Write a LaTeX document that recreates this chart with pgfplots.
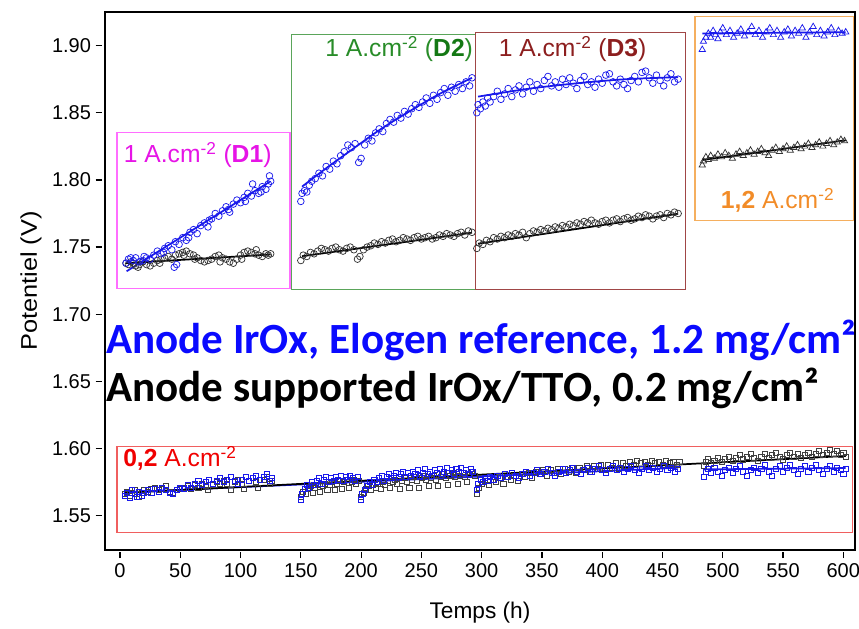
\documentclass[border=0pt]{standalone}
\usepackage{pgfplots}
\pgfplotsset{compat=1.18}
\usepackage{fontspec}
\setmainfont{Liberation Sans}
\newfontfamily\calibri{Carlito}
\definecolor{mblue}{RGB}{25,25,235}
\definecolor{tblue}{RGB}{10,10,255}
\definecolor{mag}{RGB}{230,20,230}
\definecolor{magbox}{RGB}{255,110,255}
\definecolor{grtext}{RGB}{40,140,40}
\definecolor{grbold}{RGB}{20,120,20}
\definecolor{grbox}{RGB}{90,165,90}
\definecolor{brtext}{RGB}{140,30,30}
\definecolor{brbox}{RGB}{160,70,70}
\definecolor{ortext}{RGB}{242,140,40}
\definecolor{orbox}{RGB}{245,175,95}
\definecolor{rdtext}{RGB}{240,0,0}
\definecolor{rdbox}{RGB}{240,95,95}
\begin{document}
\begin{tikzpicture}
\useasboundingbox (-78.75pt,-58.5pt) rectangle (565.5pt,412.5pt);
\begin{axis}[
  at={(0pt,0pt)}, anchor=south west,
  scale only axis, width=562.5pt, height=403.5pt,
  xmin=-12.44, xmax=609.7, ymin=1.5245, ymax=1.925,
  xtick={0,50,...,600}, ytick={1.55,1.60,...,1.91},
  /pgf/number format/assume math mode=true,
  yticklabel style={/pgf/number format/fixed,/pgf/number format/fixed zerofill,/pgf/number format/precision=2},
  tick label style={font=\fontsize{15}{18}\selectfont},
  tick align=outside, major tick length=4.5pt,
  x tick style={yshift=-1.5pt,line width=0.9pt,black},
  y tick style={xshift=-2.5pt,line width=0.9pt,black},
  xtick pos=bottom, ytick pos=left,
  axis line style={line width=1.2pt},
  xticklabel style={yshift=-2pt},
  yticklabel style={xshift=-2.5pt},
  clip=false,
  every axis x label/.style={at={(axis description cs:0.5,-0.117)},anchor=center,font=\fontsize{17}{20}\selectfont},
  every axis y label/.style={at={(axis description cs:-0.0987,0.5)},rotate=90,anchor=center,font=\fontsize{17}{20}\selectfont},
  xlabel={Temps (h)},
  ylabel={\scalebox{1.12}[1]{Potentiel (V)}},
]
% ---------- boxes ----------
\draw[magbox,line width=0.8pt] (axis cs:-2.5,1.7195) rectangle (axis cs:141,1.8355);
\draw[grbox,line width=0.8pt] (axis cs:142.5,1.7185) rectangle (axis cs:295,1.9085);
\draw[brbox,line width=0.8pt] (axis cs:295,1.7185) rectangle (axis cs:469,1.9095);
\draw[orbox,line width=0.8pt] (axis cs:477,1.770) rectangle (axis cs:608.5,1.9215);
\draw[rdbox,line width=0.8pt] (axis cs:-2.5,1.5375) rectangle (axis cs:607.5,1.6015);

% ---------- D1 ----------
\addplot[only marks, mark=o, mark size=2.5pt, black!80, mark options={line width=0.55pt}] coordinates {
(5,1.738)(7,1.737)(9,1.739)(11,1.738)(13,1.736)(16,1.737)(19,1.739)(22,1.737)(25,1.736)(28,1.738)
(31,1.740)(34,1.741)(37,1.742)(40,1.743)(43,1.741)(46,1.744)(49,1.745)(52,1.746)(55,1.747)(58,1.745)
(61,1.744)(64,1.742)(67,1.740)(70,1.739)(73,1.740)(76,1.741)(79,1.743)(82,1.744)(85,1.742)(88,1.741)
(91,1.739)(94,1.738)(97,1.741)(100,1.744)(103,1.746)(106,1.747)(109,1.746)(112,1.745)(115,1.744)(118,1.743)
(121,1.745)(123,1.744)(125,1.745)(15,1.735)(33,1.738)(53,1.744)(62,1.741)(83,1.739)(101,1.741)(113,1.748)};
\addplot[only marks, mark=o, mark size=2.5pt, mblue, mark options={line width=0.55pt}] coordinates {
(5,1.738)(7,1.741)(9,1.742)(11,1.740)(13,1.742)(16,1.739)(19,1.740)(22,1.742)(25,1.741)(28,1.744)
(31,1.747)(34,1.745)(37,1.749)(40,1.751)(43,1.748)(46,1.754)(49,1.752)(52,1.757)(55,1.755)(58,1.761)
(61,1.763)(64,1.760)(67,1.766)(70,1.768)(73,1.765)(76,1.771)(79,1.775)(82,1.773)(85,1.777)(88,1.780)
(91,1.776)(94,1.782)(97,1.785)(100,1.783)(103,1.787)(106,1.790)(109,1.788)(112,1.792)(115,1.790)(118,1.795)
(121,1.793)(123,1.797)(125,1.799)(45,1.735)(47,1.737)(124,1.803)(110,1.797)
(20,1.743)(36,1.746)(57,1.757)(74,1.770)(90,1.778)(104,1.784)(117,1.791)};
\addplot[black, line width=1.3pt] coordinates {(5,1.738)(125,1.7445)};
\addplot[mblue, line width=1.3pt] coordinates {(5.5,1.732)(124.3,1.7987)};

% ---------- D2 ----------
\addplot[only marks, mark=o, mark size=2.5pt, black!80, mark options={line width=0.55pt}] coordinates {
(150,1.740)(152,1.744)(155,1.743)(158,1.746)(161,1.745)(164,1.747)(167,1.749)(170,1.748)(173,1.747)(176,1.749)
(179,1.750)(182,1.748)(185,1.747)(188,1.749)(191,1.750)(194,1.748)(197,1.741)(199,1.743)(202,1.748)(205,1.750)
(208,1.751)(211,1.753)(214,1.752)(217,1.754)(220,1.753)(223,1.755)(226,1.756)(229,1.754)(232,1.755)(235,1.757)
(238,1.756)(241,1.755)(244,1.757)(247,1.758)(250,1.756)(253,1.757)(256,1.758)(259,1.756)(262,1.757)(265,1.759)
(268,1.758)(271,1.760)(274,1.759)(277,1.758)(280,1.760)(283,1.761)(286,1.759)(289,1.762)(292,1.761)};
\addplot[only marks, mark=o, mark size=2.5pt, mblue, mark options={line width=0.55pt}] coordinates {
(150,1.784)(151,1.790)(153,1.792)(155,1.791)(157,1.796)(159,1.799)(162,1.801)(165,1.805)(168,1.803)(171,1.810)
(174,1.808)(177,1.814)(180,1.812)(183,1.818)(186,1.821)(189,1.826)(192,1.824)(195,1.827)(198,1.813)(200,1.816)
(203,1.826)(206,1.831)(209,1.829)(212,1.835)(215,1.838)(218,1.836)(221,1.842)(224,1.845)(227,1.843)(230,1.848)
(233,1.846)(236,1.851)(239,1.849)(242,1.853)(245,1.856)(248,1.854)(251,1.858)(254,1.861)(257,1.857)(260,1.863)
(263,1.860)(266,1.865)(269,1.868)(272,1.863)(275,1.869)(278,1.866)(281,1.871)(284,1.868)(287,1.873)(290,1.870)
(292,1.876)};
\addplot[black, line width=1.3pt] coordinates {(151,1.7432)(292,1.7607)};
\addplot[mblue, line width=1.3pt, smooth] coordinates {(151,1.795)(170,1.808)(190,1.821)(215,1.837)(240,1.851)(265,1.864)(292,1.876)};

% ---------- D3 ----------
\addplot[only marks, mark=o, mark size=2.5pt, black!80, mark options={line width=0.55pt}] coordinates {
(296,1.749)(298,1.753)(301,1.752)(304,1.755)(307,1.754)(310,1.757)(313,1.756)(316,1.758)(319,1.757)(322,1.759)
(325,1.758)(328,1.760)(331,1.759)(334,1.761)(337,1.757)(340,1.760)(343,1.762)(346,1.761)(349,1.763)(352,1.762)
(355,1.764)(358,1.763)(361,1.765)(364,1.764)(367,1.766)(370,1.765)(373,1.767)(376,1.766)(379,1.768)(382,1.767)
(385,1.769)(388,1.768)(391,1.770)(394,1.768)(397,1.767)(400,1.769)(403,1.770)(406,1.768)(409,1.770)(412,1.771)
(415,1.769)(418,1.771)(421,1.772)(424,1.770)(427,1.771)(430,1.773)(433,1.772)(436,1.774)(439,1.773)(442,1.771)
(445,1.773)(448,1.774)(451,1.772)(454,1.775)(457,1.774)(460,1.776)(463,1.775)};
\addplot[only marks, mark=o, mark size=2.5pt, mblue, mark options={line width=0.55pt}] coordinates {
(296,1.850)(297,1.856)(299,1.853)(301,1.858)(303,1.855)(305,1.861)(307,1.858)(310,1.862)(313,1.866)(316,1.860)
(319,1.864)(322,1.868)(325,1.862)(328,1.867)(331,1.870)(334,1.864)(337,1.869)(340,1.873)(343,1.866)(346,1.871)
(349,1.868)(352,1.874)(355,1.877)(358,1.870)(361,1.873)(364,1.869)(367,1.875)(370,1.871)(373,1.876)(376,1.872)
(379,1.868)(382,1.874)(385,1.877)(388,1.871)(391,1.873)(394,1.869)(397,1.875)(400,1.872)(403,1.878)(406,1.879)
(409,1.873)(412,1.870)(415,1.875)(418,1.871)(421,1.868)(424,1.874)(427,1.877)(430,1.873)(433,1.880)(436,1.881)
(439,1.876)(442,1.872)(445,1.878)(448,1.874)(451,1.870)(454,1.876)(457,1.879)(460,1.873)(463,1.875)};
\addplot[black, line width=1.3pt] coordinates {(297,1.7525)(463,1.7748)};
\addplot[mblue, line width=1.3pt, smooth] coordinates {(297,1.862)(340,1.868)(380,1.872)(420,1.875)(463,1.8765)};

% ---------- 1,2 A/cm2 ----------
\addplot[only marks, mark=triangle, mark size=2.7pt, black!80, mark options={line width=0.55pt}] coordinates {
(483,1.811)(484,1.814)(486,1.817)(488,1.815)(490,1.818)(493,1.816)(496,1.819)(499,1.817)(502,1.820)(505,1.818)
(508,1.816)(511,1.819)(514,1.821)(517,1.818)(520,1.820)(523,1.822)(526,1.819)(529,1.821)(532,1.823)(535,1.820)
(538,1.818)(541,1.822)(544,1.824)(547,1.821)(550,1.823)(553,1.825)(556,1.822)(559,1.824)(562,1.826)(565,1.823)
(568,1.825)(571,1.827)(574,1.824)(577,1.826)(580,1.828)(583,1.825)(586,1.827)(589,1.829)(592,1.826)(595,1.828)
(598,1.830)(601,1.829)};
\addplot[only marks, mark=triangle, mark size=2.7pt, mblue, mark options={line width=0.55pt}] coordinates {
(483,1.897)(484,1.903)(486,1.906)(488,1.909)(490,1.906)(492,1.911)(494,1.908)(496,1.905)(498,1.910)(500,1.913)
(503,1.908)(506,1.911)(509,1.906)(512,1.909)(515,1.912)(518,1.907)(521,1.910)(524,1.914)(527,1.908)(530,1.911)
(533,1.906)(536,1.910)(539,1.913)(542,1.908)(545,1.911)(548,1.906)(551,1.910)(554,1.912)(557,1.907)(560,1.911)
(563,1.909)(566,1.913)(569,1.906)(572,1.910)(575,1.914)(578,1.908)(581,1.911)(584,1.907)(587,1.910)(590,1.913)
(593,1.908)(596,1.911)(599,1.909)(602,1.910)};
\addplot[black, line width=1.3pt] coordinates {(483,1.8148)(602,1.8295)};
\addplot[mblue, line width=1.3pt] coordinates {(483,1.909)(602,1.910)};

% ---------- 0,2 A/cm2 ----------
\addplot[only marks, mark=square, mark size=1.9pt, black!75, mark options={line width=0.5pt}] coordinates {
(4,1.566)(6,1.568)(8,1.565)(10,1.567)(12,1.569)(14,1.566)(16,1.564)(18,1.567)(20,1.569)(23,1.568)
(26,1.570)(29,1.571)(32,1.569)(35,1.570)(38,1.572)(41,1.568)(44,1.567)(47,1.569)(50,1.570)(53,1.571)
(56,1.572)(59,1.570)(62,1.573)(65,1.571)(68,1.574)(71,1.572)(73,1.569)(77,1.573)(80,1.575)(83,1.574)
(86,1.576)(89,1.574)(92,1.569)(95,1.575)(98,1.577)(101,1.574)(103,1.570)(107,1.576)(110,1.578)(113,1.575)
(114,1.571)(119,1.577)(122,1.579)(124,1.574)(126,1.576)
(150,1.564)(152,1.568)(154,1.566)(156,1.570)(158,1.572)(160,1.567)(162,1.571)(164,1.573)(166,1.568)(168,1.572)
(170,1.574)(172,1.569)(174,1.573)(176,1.575)(178,1.569)(180,1.574)(182,1.576)(184,1.570)(186,1.575)(188,1.577)
(190,1.571)(192,1.575)(194,1.577)(196,1.574)(198,1.576)
(200,1.564)(202,1.567)(204,1.570)(206,1.572)(208,1.569)(210,1.573)(212,1.571)(214,1.574)(216,1.570)(218,1.575)
(220,1.573)(222,1.576)(224,1.571)(226,1.575)(228,1.577)(230,1.574)(232,1.570)(234,1.576)(236,1.578)(238,1.575)
(240,1.571)(242,1.577)(244,1.579)(246,1.576)(248,1.571)(250,1.578)(252,1.580)(254,1.577)(256,1.572)(258,1.578)
(260,1.580)(262,1.577)(264,1.572)(266,1.579)(268,1.581)(270,1.578)(272,1.573)(274,1.580)(276,1.582)(278,1.579)
(280,1.574)(282,1.580)(284,1.582)(286,1.579)(288,1.575)(290,1.581)(292,1.583)(294,1.580)
(296,1.566)(298,1.571)(300,1.574)(303,1.576)(306,1.573)(309,1.577)(312,1.575)(315,1.578)(318,1.574)(321,1.579)
(324,1.577)(327,1.580)(330,1.576)(333,1.581)(336,1.579)(339,1.582)(342,1.578)(345,1.583)(348,1.581)(351,1.584)
(354,1.580)(357,1.584)(360,1.582)(363,1.585)(366,1.581)(369,1.585)(372,1.583)(375,1.586)(378,1.582)(381,1.586)
(384,1.584)(387,1.587)(390,1.583)(393,1.587)(396,1.585)(399,1.588)(402,1.584)(405,1.588)(408,1.586)(411,1.589)
(414,1.585)(417,1.589)(420,1.587)(423,1.590)(426,1.588)(429,1.591)(432,1.589)(435,1.590)(438,1.588)(441,1.591)
(444,1.589)(447,1.590)(450,1.588)(453,1.591)(456,1.589)(459,1.590)(462,1.588)(464,1.590)
(484,1.587)(486,1.590)(488,1.592)(490,1.589)(493,1.591)(496,1.593)(499,1.590)(502,1.592)(505,1.594)(508,1.591)
(511,1.593)(514,1.595)(517,1.592)(520,1.594)(523,1.596)(526,1.593)(529,1.591)(532,1.594)(535,1.596)(538,1.593)
(541,1.595)(544,1.597)(547,1.594)(550,1.592)(553,1.595)(556,1.597)(559,1.594)(562,1.596)(565,1.593)(568,1.595)
(571,1.597)(574,1.594)(577,1.596)(580,1.598)(583,1.595)(586,1.597)(589,1.599)(592,1.596)(595,1.598)(598,1.595)
(600,1.597)(602,1.594)};
\addplot[only marks, mark=square, mark size=1.9pt, mblue, mark options={line width=0.5pt}] coordinates {
(4,1.565)(6,1.567)(8,1.563)(10,1.569)(12,1.566)(14,1.564)(16,1.568)(18,1.565)(20,1.567)(23,1.569)
(26,1.567)(29,1.570)(32,1.568)(35,1.571)(38,1.569)(41,1.567)(44,1.566)(47,1.569)(50,1.571)(53,1.570)
(56,1.573)(59,1.571)(62,1.574)(65,1.576)(68,1.573)(71,1.575)(74,1.577)(77,1.574)(80,1.576)(83,1.578)
(86,1.575)(89,1.577)(92,1.579)(95,1.576)(98,1.574)(101,1.577)(104,1.579)(107,1.576)(110,1.578)(113,1.580)
(116,1.577)(119,1.579)(122,1.581)(124,1.576)(126,1.578)
(150,1.562)(151,1.566)(153,1.570)(155,1.573)(157,1.571)(159,1.575)(161,1.573)(163,1.576)(165,1.578)(167,1.574)
(169,1.577)(171,1.579)(173,1.575)(175,1.578)(177,1.576)(179,1.579)(181,1.577)(183,1.580)(185,1.576)(187,1.579)
(189,1.577)(191,1.580)(193,1.578)(195,1.576)(197,1.579)
(200,1.562)(201,1.566)(203,1.569)(205,1.572)(207,1.575)(209,1.573)(211,1.577)(213,1.575)(215,1.578)(217,1.580)
(219,1.576)(221,1.579)(223,1.581)(225,1.578)(227,1.580)(229,1.582)(231,1.579)(233,1.581)(235,1.583)(237,1.579)
(239,1.582)(241,1.580)(243,1.583)(245,1.581)(247,1.584)(249,1.580)(251,1.582)(253,1.585)(255,1.581)(257,1.583)
(259,1.580)(261,1.584)(263,1.582)(265,1.585)(267,1.581)(269,1.583)(271,1.586)(273,1.582)(275,1.584)(277,1.581)
(279,1.585)(281,1.583)(283,1.586)(285,1.582)(287,1.584)(289,1.581)(291,1.585)(293,1.583)
(296,1.569)(297,1.574)(299,1.577)(301,1.575)(303,1.578)(305,1.576)(307,1.579)(310,1.577)(313,1.580)(316,1.578)
(319,1.581)(322,1.579)(325,1.582)(328,1.580)(331,1.578)(334,1.581)(337,1.583)(340,1.580)(343,1.582)(346,1.584)
(349,1.581)(352,1.583)(355,1.585)(358,1.582)(361,1.580)(364,1.583)(367,1.585)(370,1.582)(373,1.584)(376,1.586)
(379,1.583)(382,1.581)(385,1.584)(388,1.586)(391,1.583)(394,1.585)(397,1.587)(400,1.584)(403,1.582)(406,1.585)
(409,1.587)(412,1.584)(415,1.586)(418,1.583)(421,1.585)(424,1.587)(427,1.584)(430,1.582)(433,1.585)(436,1.587)
(439,1.584)(442,1.586)(445,1.583)(448,1.585)(451,1.587)(454,1.584)(457,1.586)(460,1.583)(463,1.585)
(484,1.579)(486,1.583)(488,1.585)(490,1.582)(493,1.586)(496,1.583)(499,1.580)(502,1.584)(505,1.586)(508,1.582)
(511,1.585)(514,1.587)(517,1.583)(520,1.580)(523,1.584)(526,1.586)(529,1.582)(532,1.585)(535,1.588)(538,1.583)
(541,1.580)(544,1.585)(547,1.587)(550,1.583)(553,1.586)(556,1.588)(559,1.584)(562,1.581)(565,1.585)(568,1.587)
(571,1.583)(574,1.586)(577,1.588)(580,1.584)(583,1.581)(586,1.585)(589,1.587)(592,1.583)(595,1.586)(598,1.584)
(600,1.581)(602,1.585)};
\addplot[mblue, line width=1.3pt] coordinates {(4,1.5675)(463,1.5857)};
\addplot[mblue, line width=1.3pt] coordinates {(484,1.5845)(602,1.5855)};
\addplot[black, line width=1.3pt] coordinates {(4,1.567)(602,1.5945)};

% ---------- labels ----------
\node[anchor=west, inner sep=0pt, text=mag, font=\fontsize{18.5}{22}\selectfont] at (axis cs:3,1.8185) {1 A.cm\textsuperscript{-2} (\textbf{D1})};
\node[anchor=east, inner sep=0pt, text=grtext, font=\fontsize{18.5}{22}\selectfont] at (axis cs:293,1.8975) {1 A.cm\textsuperscript{-2} (\textbf{\textcolor{grbold}{D2}})};
\node[anchor=west, inner sep=0pt, text=brtext, font=\fontsize{18.5}{22}\selectfont] at (axis cs:314,1.8975) {1 A.cm\textsuperscript{-2} (\textbf{D3})};
\node[anchor=center, inner sep=0pt, text=ortext, font=\fontsize{18.5}{22}\selectfont] at (axis cs:545.5,1.785) {\textbf{1,2} A.cm\textsuperscript{-2}};
\node[anchor=west, inner sep=0pt, text=rdtext, font=\fontsize{18.5}{22}\selectfont] at (axis cs:2.5,1.5925) {\textbf{0,2} A.cm\textsuperscript{-2}};
\node[anchor=base west, inner sep=0pt, text=tblue, font=\calibri\bfseries\fontsize{32.3}{36}\selectfont] at (axis cs:-11.6,1.6711) {Anode IrOx, Elogen reference, 1.2 mg/cm²};
\node[anchor=base west, inner sep=0pt, text=black, font=\calibri\bfseries\fontsize{32.3}{36}\selectfont] at (axis cs:-11.6,1.6354) {Anode supported IrOx/TTO, 0.2 mg/cm²};
\end{axis}
\end{tikzpicture}
\end{document}
